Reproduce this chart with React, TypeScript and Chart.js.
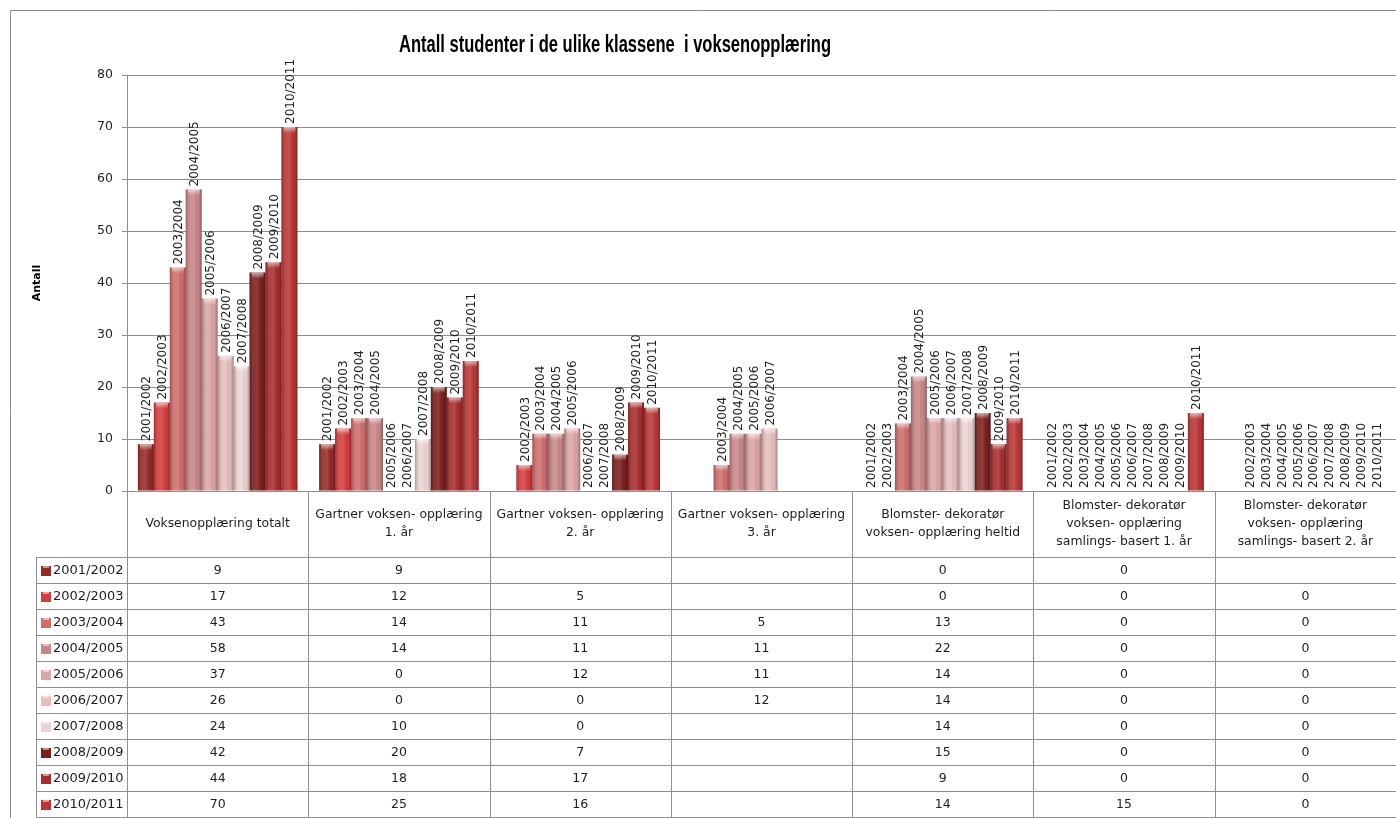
import React, { useEffect, useRef } from "react";
import { Chart, registerables } from "chart.js";

Chart.register(...registerables);

const chartTitle = "Antall studenter i de ulike klassene  i voksenopplæring";
const yAxisTitle = "Antall";

const categories = [
  "Voksenopplæring totalt",
  "Gartner voksen- opplæring 1. år",
  "Gartner voksen- opplæring 2. år",
  "Gartner voksen- opplæring 3. år",
  "Blomster- dekoratør voksen- opplæring heltid",
  "Blomster- dekoratør voksen- opplæring samlings- basert 1. år",
  "Blomster- dekoratør voksen- opplæring samlings- basert 2. år",
];
const categoryLines = [
  ["Voksenopplæring totalt"],
  ["Gartner voksen- opplæring", "1. år"],
  ["Gartner voksen- opplæring", "2. år"],
  ["Gartner voksen- opplæring", "3. år"],
  ["Blomster- dekoratør", "voksen- opplæring heltid"],
  ["Blomster- dekoratør", "voksen- opplæring", "samlings- basert 1. år"],
  ["Blomster- dekoratør", "voksen- opplæring", "samlings- basert 2. år"],
];

const seasons = [
  "2001/2002",
  "2002/2003",
  "2003/2004",
  "2004/2005",
  "2005/2006",
  "2006/2007",
  "2007/2008",
  "2008/2009",
  "2009/2010",
  "2010/2011",
];

const v2001_2002 = [9, 9, null, null, 0, 0, null];
const v2002_2003 = [17, 12, 5, null, 0, 0, 0];
const v2003_2004 = [43, 14, 11, 5, 13, 0, 0];
const v2004_2005 = [58, 14, 11, 11, 22, 0, 0];
const v2005_2006 = [37, 0, 12, 11, 14, 0, 0];
const v2006_2007 = [26, 0, 0, 12, 14, 0, 0];
const v2007_2008 = [24, 10, 0, null, 14, 0, 0];
const v2008_2009 = [42, 20, 7, null, 15, 0, 0];
const v2009_2010 = [44, 18, 17, null, 9, 0, 0];
const v2010_2011 = [70, 25, 16, null, 14, 15, 0];

const seriesValues = [
  v2001_2002,
  v2002_2003,
  v2003_2004,
  v2004_2005,
  v2005_2006,
  v2006_2007,
  v2007_2008,
  v2008_2009,
  v2009_2010,
  v2010_2011,
];

const seriesColors = [
  "#962828",
  "#d43c3c",
  "#d06c6c",
  "#c98686",
  "#dca4a4",
  "#e6bebe",
  "#ecd3d3",
  "#7c1d1d",
  "#a82b2b",
  "#bb3535",
];

const yMin = 0;
const yMax = 80;
const yStep = 10;

const FONT = "'DejaVu Sans', 'Liberation Sans', sans-serif";
const GRID = "#8f8f8f";

const decorPlugin = {
  id: "decor",
  afterDatasetsDraw(chart: any) {
    const ctx = chart.ctx;
    chart.data.datasets.forEach((ds: any, di: number) => {
      const meta = chart.getDatasetMeta(di);
      meta.data.forEach((el: any, i: number) => {
        const v = ds.data[i];
        if (v == null || v === 0) return;
        const p = el.getProps(["x", "y", "base", "width"], true);
        const l = p.x - p.width / 2;
        const h = p.base - p.y;
        ctx.save();
        const g = ctx.createLinearGradient(l, 0, l + p.width, 0);
        g.addColorStop(0, "rgba(0,0,0,0.28)");
        g.addColorStop(0.3, "rgba(255,255,255,0.10)");
        g.addColorStop(0.5, "rgba(255,255,255,0.14)");
        g.addColorStop(0.8, "rgba(0,0,0,0.02)");
        g.addColorStop(1, "rgba(0,0,0,0.30)");
        ctx.fillStyle = g;
        ctx.fillRect(l, p.y, p.width, h);
        const cg = ctx.createLinearGradient(0, p.y, 0, p.y + 6);
        cg.addColorStop(0, "rgba(255,255,255,0.6)");
        cg.addColorStop(1, "rgba(255,255,255,0)");
        ctx.fillStyle = cg;
        ctx.fillRect(l + 2, p.y, p.width - 4, 6);
        ctx.restore();
      });
    });
    ctx.save();
    ctx.font = "12px " + FONT;
    ctx.fillStyle = "#1e1e1e";
    ctx.textAlign = "left";
    ctx.textBaseline = "middle";
    chart.data.datasets.forEach((ds: any, di: number) => {
      const meta = chart.getDatasetMeta(di);
      meta.data.forEach((el: any, i: number) => {
        const v = ds.data[i];
        if (v == null) return;
        const p = el.getProps(["x", "y"], true);
        ctx.save();
        ctx.translate(p.x + 1, p.y - 3);
        ctx.rotate(-Math.PI / 2);
        ctx.fillText(ds.label, 0, 0);
        ctx.restore();
      });
    });
    ctx.restore();
  },
  afterDraw(chart: any) {
    const ctx = chart.ctx;
    const W = chart.width;
    const H = chart.height;
    const area = chart.chartArea;
    const xs = chart.scales.x;
    ctx.save();
    ctx.strokeStyle = "#8a8a8a";
    ctx.lineWidth = 1;
    ctx.beginPath();
    ctx.moveTo(10.5, H);
    ctx.lineTo(10.5, 10.5);
    ctx.lineTo(W, 10.5);
    ctx.stroke();

    ctx.font = "bold 23px 'Liberation Sans', sans-serif";
    const tw = ctx.measureText(chartTitle).width;
    const sx = 432 / tw;
    ctx.save();
    ctx.translate(615, 46);
    ctx.scale(sx, 1);
    ctx.fillStyle = "#000";
    ctx.textAlign = "center";
    ctx.textBaseline = "middle";
    ctx.fillText(chartTitle, 0, 0);
    ctx.restore();

    const n = categories.length;
    const catW = (xs.right - xs.left) / n;
    const top = area.bottom;
    const headH = 66;
    const rowH = 26;
    const rowsTop = top + headH;
    const legL = 36;
    const tableBottom = rowsTop + rowH * seasons.length;
    ctx.strokeStyle = GRID;
    ctx.lineWidth = 1;
    ctx.beginPath();
    for (let i = 0; i <= n; i++) {
      const x = Math.round(xs.left + i * catW) + 0.5;
      ctx.moveTo(x, top);
      ctx.lineTo(x, tableBottom);
    }
    ctx.moveTo(legL + 0.5, rowsTop);
    ctx.lineTo(legL + 0.5, tableBottom);
    for (let r = 0; r <= seasons.length; r++) {
      const y = Math.round(rowsTop + r * rowH) + 0.5;
      ctx.moveTo(legL, y);
      ctx.lineTo(W, y);
    }
    ctx.stroke();

    ctx.fillStyle = "#1e1e1e";
    ctx.textAlign = "center";
    ctx.textBaseline = "middle";
    ctx.font = "12.4px " + FONT;
    categoryLines.forEach((lines, i) => {
      const cx = xs.left + (i + 0.5) * catW;
      const lh = 18;
      const y0 = top + headH / 2 - ((lines.length - 1) * lh) / 2;
      lines.forEach((t, k) => ctx.fillText(t, cx, y0 + k * lh));
    });

    seasons.forEach((s, r) => {
      const cy = rowsTop + r * rowH + rowH / 2 + 1;
      const kx = 41;
      const ky = cy - 5;
      ctx.fillStyle = seriesColors[r];
      ctx.fillRect(kx, ky, 10, 10);
      ctx.fillStyle = "rgba(255,255,255,0.5)";
      ctx.fillRect(kx + 2, ky, 6, 2);
      ctx.fillStyle = "#1e1e1e";
      ctx.textAlign = "left";
      ctx.font = "13px " + FONT;
      ctx.fillText(s, 53, cy);
      ctx.textAlign = "center";
      ctx.font = "12.5px " + FONT;
      seriesValues[r].forEach((v, i) => {
        if (v == null) return;
        const cx = xs.left + (i + 0.5) * catW;
        ctx.fillText(String(v), cx, cy);
      });
    });
    ctx.restore();
  },
};

export default function App() {
  const ref = useRef<HTMLCanvasElement | null>(null);
  useEffect(() => {
    const canvas = ref.current;
    if (!canvas) return;
    const chart = new Chart(canvas, {
      type: "bar",
      data: {
        labels: categories,
        datasets: seasons.map((s, i) => ({
          label: s,
          data: seriesValues[i],
          backgroundColor: seriesColors[i],
          borderWidth: 0,
          categoryPercentage: 0.88,
          barPercentage: 1.0,
        })),
      },
      options: {
        animation: false,
        responsive: false,
        devicePixelRatio: 1,
        layout: { padding: { left: 0, right: 0, top: 75, bottom: 327 } },
        plugins: {
          legend: { display: false },
          title: { display: false },
          tooltip: { enabled: false },
        },
        scales: {
          x: {
            type: "category",
            display: false,
            offset: true,
          },
          y: {
            min: yMin,
            max: yMax,
            afterFit: (scale: any) => {
              scale.width = 127;
            },
            ticks: {
              stepSize: yStep,
              color: "#1e1e1e",
              padding: 9,
              font: { family: FONT, size: 12.5 },
            },
            grid: {
              color: GRID,
              lineWidth: 1,
              tickLength: 5,
            },
            border: { display: true, color: GRID },
            title: {
              display: true,
              text: yAxisTitle,
              color: "#000",
              font: { family: FONT, size: 11, weight: "bold" },
              padding: { top: 31, bottom: 0 },
            },
          },
        },
      },
      plugins: [decorPlugin],
    });
    return () => chart.destroy();
  }, []);
  return (
    <div style={{ position: "fixed", left: 0, top: 0, width: 1396, height: 818, background: "#fff" }}>
      <canvas ref={ref} width={1396} height={818} style={{ display: "block", width: 1396, height: 818 }} />
    </div>
  );
}
